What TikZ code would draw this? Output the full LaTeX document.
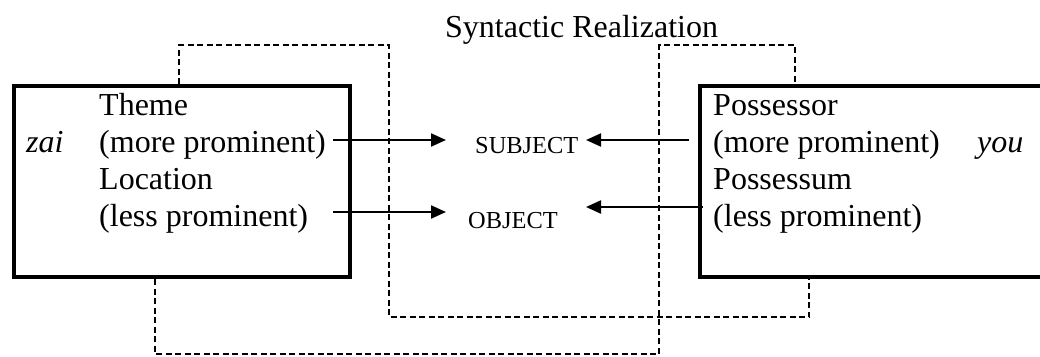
\documentclass[tikz,border=0pt]{standalone}
\usepackage{fontspec}
\setmainfont{Liberation Serif}
\usetikzlibrary{arrows.meta}
\begin{document}
\begin{tikzpicture}[x=1pt,y=-1pt,
  lbl/.style={anchor=base west,inner sep=0pt,font=\fontsize{32}{37}\selectfont},
  sc/.style={anchor=base west,inner sep=0pt,font=\fontsize{24.4}{28}\selectfont},
  frame/.style={line width=4.5pt},
  dotline/.style={line width=2.5pt,dash pattern=on 6pt off 3.5pt},
  arr/.style={line width=2.2pt,-{Triangle[length=15pt,width=13pt]}}]
\useasboundingbox (0,0) rectangle (1040,356);
% boxes
\draw[frame] (14,86) rectangle (350,277);
\draw[frame] (1050,86) -- (700,86) -- (700,277) -- (1050,277);
% dotted lines
\draw[dotline] (179,84) -- (179,45) -- (389,45) -- (389,317) -- (809,317) -- (809,279);
\draw[dotline] (155,279) -- (155,354) -- (659,354) -- (659,45) -- (795,45) -- (795,84);
% title
\node[lbl] (title) at (445,37) {Syntactic Realization};
% left box texts
\node[lbl] (zai) at (26,152) {\itshape zai};
\node[lbl] (theme) at (99,115) {Theme};
\node[lbl] (tmore) at (99,152) {(more prominent)};
\node[lbl] (loc) at (99,189) {Location};
\node[lbl] (lless) at (99,226) {(less prominent)};
% right box texts
\node[lbl] (poss) at (713,115) {Possessor};
\node[lbl] (pmore) at (713,152) {(more prominent)};
\node[lbl] (you) at (977,152) {\itshape you};
\node[lbl] (possum) at (713,189) {Possessum};
\node[lbl] (pless) at (713,226) {(less prominent)};
% middle
\node[sc] (subj) at (475,153) {SUBJECT};
\node[sc] (obj) at (468,228) {OBJECT};
% arrow coordinates
\coordinate (a1) at (333,140);
\coordinate (b1) at (446,140);
\coordinate (a2) at (333,212);
\coordinate (b2) at (446,212);
\coordinate (a3) at (689,140);
\coordinate (b3) at (586,140);
\coordinate (a4) at (703,207);
\coordinate (b4) at (586,207);
\draw[arr] (a1) -- (b1);
\draw[arr] (a2) -- (b2);
\draw[arr] (a3) -- (b3);
\draw[arr] (a4) -- (b4);
\end{tikzpicture}
\end{document}
